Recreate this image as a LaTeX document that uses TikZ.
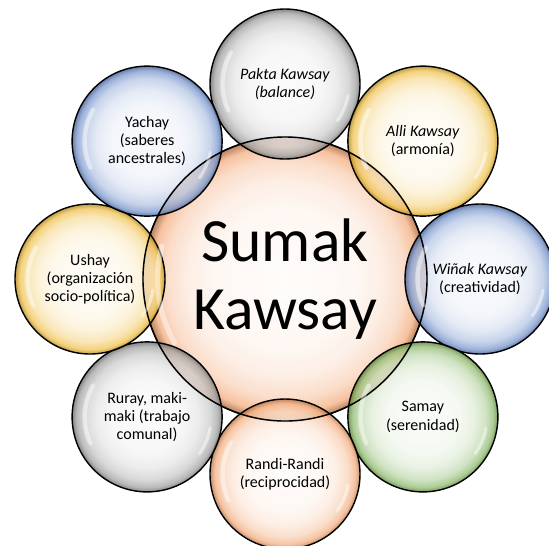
\documentclass[tikz,border=0pt]{standalone}
\usepackage{fontspec}
\setmainfont{Carlito}
\usetikzlibrary{positioning,calc}

\definecolor{bgray}{HTML}{8C8C8C}
\definecolor{bblue}{HTML}{5A7EC2}
\definecolor{byellow}{HTML}{EDB424}
\definecolor{bgreen}{HTML}{74AA4C}
\definecolor{borange}{HTML}{F09A60}
\definecolor{bpeach}{HTML}{F4AE80}

% the path fills the inner 50bp square of the shading
\pgfdeclareradialshading[bubcol]{bubble}{\pgfpoint{0bp}{0bp}}{%
  color(0bp)=(bubcol!4!white); color(12bp)=(bubcol!9!white);
  color(17bp)=(bubcol!20!white); color(21bp)=(bubcol!42!white);
  color(23.5bp)=(bubcol!75!white); color(25bp)=(bubcol!75!black);
  color(50bp)=(bubcol!75!black)}

\tikzset{
  bubble/.style={circle, draw=black, line width=0.8pt, minimum size=3cm,
    inner sep=0pt, align=center, font=\fontsize{9.1}{10.3}\selectfont,
    /utils/exec={\colorlet{bubcol}{#1}}, shade, shading=bubble,
    fill opacity=0.8, text opacity=1, draw opacity=1},
  sumak/.style={circle, draw=black, line width=0.8pt, minimum size=5.68cm,
    inner sep=0pt, align=center, font=\fontsize{35}{39}\selectfont,
    /utils/exec={\colorlet{bubcol}{bpeach}}, shade, shading=bubble},
  gloss/.style={white, line width=2.5pt, line cap=round, opacity=0.45}
}

\begin{document}
\begin{tikzpicture}
	\useasboundingbox (-5.70,-5.32) rectangle (5.28,5.58);

	\node[sumak] (sk) at (0,0) {Sumak\\Kawsay};

	\node[bubble=bgray] (pakta) at (90:3.9) {\textit{Pakta Kawsay}\\\textit{(balance)}};
	\node[bubble=byellow] (alli) at (45:3.9) {\textit{Alli Kawsay}\\(armonía)};
	\node[bubble=bblue] (winak) at (0:3.9) {\textit{Wiñak Kawsay}\\(creatividad)};
	\node[bubble=bgreen] (samay) at (-45:3.9) {Samay\\(serenidad)};
	\node[bubble=borange] (randi) at (-90:3.9) {Randi-Randi\\(reciprocidad)};
	\node[bubble=bgray] (ruray) at (-135:3.9) {Ruray, maki-\\maki (trabajo\\comunal)};
	\node[bubble=byellow] (ushay) at (180:3.9) {Ushay\\(organización\\socio-política)};
	\node[bubble=bblue] (yachay) at (135:3.9) {Yachay\\(saberes\\ancestrales)};

	% outline of the centre over the bubbles
	\draw[line width=0.8pt] (sk.center) circle[radius=2.84];

	% shine on each bubble
	\foreach \nm in {pakta,alli,winak,samay,randi,ruray,ushay,yachay} {
		\draw[gloss] ($(\nm.center)+(205:1.25)$) arc[start angle=205, end angle=150, radius=1.25];
		\draw[gloss, line width=1.8pt] ($(\nm.center)+(-35:1.28)$) arc[start angle=-35, end angle=-10, radius=1.28];
	}
	\draw[gloss, line width=3pt] ($(sk.center)+(210:2.55)$) arc[start angle=210, end angle=165, radius=2.55];

\end{tikzpicture}
\end{document}
